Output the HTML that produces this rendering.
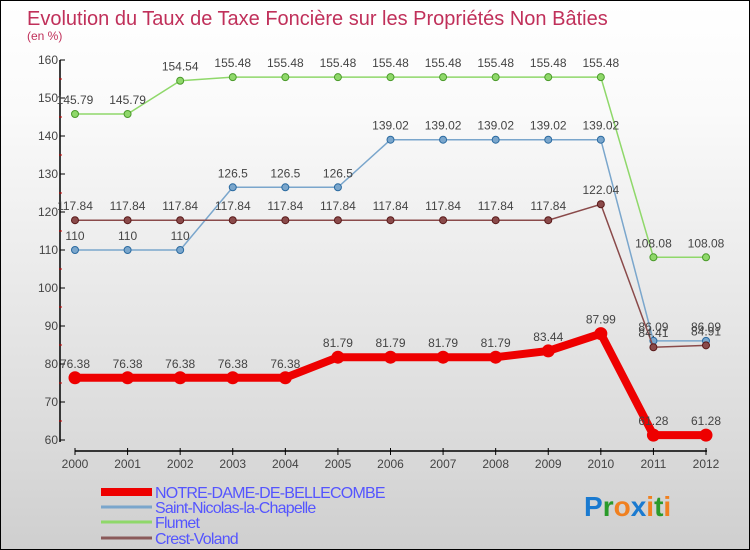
<!DOCTYPE html>
<html><head><meta charset="utf-8"><style>
body{margin:0}
#c{position:relative;width:748px;height:548px;border:1px solid #000;background:linear-gradient(#fff,#fafafa 20%,#d8d8d8 85%,#cfcfcf);font-family:"Liberation Sans",sans-serif;overflow:hidden}
</style></head><body>
<div id="c">
<svg id="s" width="748" height="548"></svg>
</div>
<script>
const years=[2000,2001,2002,2003,2004,2005,2006,2007,2008,2009,2010,2011,2012];
const ndb=[76.38,76.38,76.38,76.38,76.38,81.79,81.79,81.79,81.79,83.44,87.99,61.28,61.28];
const snc=[110,110,110,126.5,126.5,126.5,139.02,139.02,139.02,139.02,139.02,86.09,86.09];
const flu=[145.79,145.79,154.54,155.48,155.48,155.48,155.48,155.48,155.48,155.48,155.48,108.08,108.08];
const cv=[117.84,117.84,117.84,117.84,117.84,117.84,117.84,117.84,117.84,117.84,122.04,84.41,84.91];
const yTicks=[60,70,80,90,100,110,120,130,140,150,160];
const names=["NOTRE-DAME-DE-BELLECOMBE","Saint-Nicolas-la-Chapelle","Flumet","Crest-Voland"];
const NS="http://www.w3.org/2000/svg",s=document.getElementById('s');
const X=i=>74+i*(631/12), Y=v=>439-(v-60)*3.8;
function el(t,a,p){const e=document.createElementNS(NS,t);for(const k in a)e.setAttribute(k,a[k]);(p||s).appendChild(e);return e;}
function tx(x,y,str,size,fill,anchor){const e=el('text',{x:x,y:y,'font-size':size,fill:fill,'text-anchor':anchor||'start'});e.textContent=str;return e;}
let t=tx(26,24,"Evolution du Taux de Taxe Foncière sur les Propriétés Non Bâties",20,"#c0305a");

t=tx(26,39,"(en %)",12,"#c0305a");

let ax=el('line',{x1:59,y1:59,x2:59,y2:441,stroke:'#000','stroke-width':1.5});

yTicks.forEach(v=>{el('line',{x1:59,x2:64,y1:Y(v),y2:Y(v),stroke:'#000'});
 if(v<160)el('line',{x1:58,x2:61,y1:Y(v+5),y2:Y(v+5),stroke:'#c00'});
 const l=tx(57,Y(v)+4,String(v),12,'#444','end');
 });
ax=el('line',{x1:74,y1:450,x2:706,y2:450,stroke:'#000','stroke-width':1.5});

years.forEach((y,i)=>{el('line',{x1:X(i),x2:X(i),y1:447,y2:454,stroke:'#000'});
 const l=tx(X(i),467,String(y),12,'#444','middle');
 });
function series(d,col,dot,w,r,name){
 const g=el('g',{});
 el('polyline',{points:d.map((v,i)=>X(i)+','+Y(v)).join(' '),fill:'none',stroke:col,'stroke-width':w},g);
 d.forEach((v,i)=>{const c=el('circle',{cx:X(i),cy:Y(v),r:r,fill:col,stroke:dot,'stroke-width':1},g);
  
  tx(X(i),Y(v)-10,String(v),12,'#444','middle');});
}
series(flu,'#8fd86a','#4a9a2a',1.5,3.5,'flumet-series');
series(snc,'#7aa6cc','#2a6aa0',1.5,3.5,'saint-nicolas-series');
series(cv,'#8a4a4a','#5a1a1a',1.5,3.5,'crest-voland-series');
series(ndb,'#ee0000','#ee0000',8,6,'notre-dame-series');
const lc=['#ee0000','#7aa6cc','#8fd86a','#8a5a5a'],lw=[8,3,3,3];
names.forEach((n,i)=>{const g=el('g',{});
 const yy=[493,508,523,539][i];
 el('line',{x1:100,x2:151,y1:yy-2,y2:yy-2,stroke:lc[i],'stroke-width':lw[i]},g);
 const l=tx(154,yy+4,n,16,'#5555ff');g.appendChild(l);l.setAttribute('letter-spacing','-0.8');});
const lg=el('text',{x:583,y:515,'font-size':28,'font-weight':'bold'});

[['P','#1a7ad0'],['r','#2a9a2a'],['o','#f08020'],['x','#1a7ad0'],['i','#f08020'],['t','#2a9a2a'],['i','#f08020']].forEach(([c,f])=>{const sp=el('tspan',{fill:f},lg);sp.textContent=c;});
</script>
</body></html>
